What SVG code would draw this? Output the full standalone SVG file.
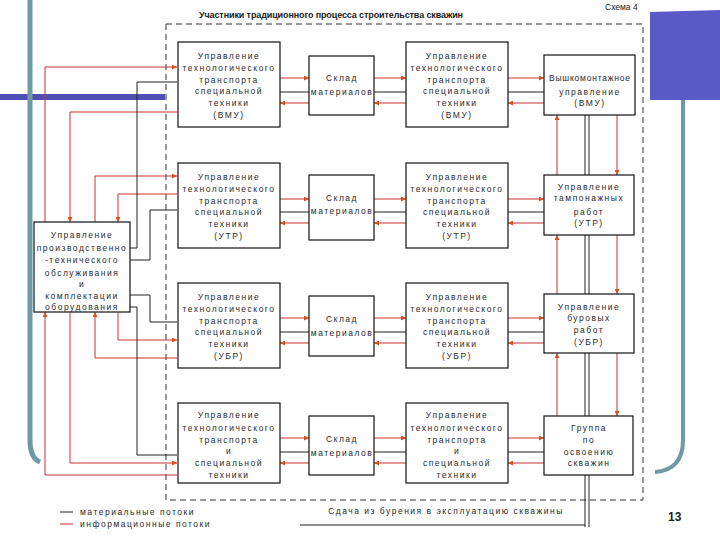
<svg xmlns="http://www.w3.org/2000/svg" width="720" height="540" viewBox="0 0 720 540">
<style>
.box{fill:#fff;stroke:#111;stroke-width:1.2}
.t{font-family:"Liberation Sans",Arial,sans-serif;font-size:8.5px;fill:#2a2a2a;text-anchor:middle;letter-spacing:1.5px}
.r{fill:none;stroke:#c83232;stroke-width:1}
.k{fill:none;stroke:#222;stroke-width:1}
.ra{fill:none;stroke:#c83232;stroke-width:1;marker-end:url(#ah)}
</style>
<defs>
<marker id="ah" viewBox="0 0 10 10" refX="10" refY="5" markerWidth="5" markerHeight="5" markerUnits="userSpaceOnUse" orient="auto">
<path d="M0,0 L10,5 L0,10 z" fill="#d8501e"/>
</marker>
</defs>
<rect width="720" height="540" fill="#fff"/>
<g id="decor">
<rect x="0" y="94" width="165" height="6" fill="#4f4fb4"/>
<path d="M30,0 V440 Q30,458 40,462" fill="none" stroke="#6e9aa3" stroke-width="5"/>
<path d="M650,12 L720,10 V100 H650 Z" fill="#5a5ac6"/>
<path d="M683,100 V440 Q683,470 655,472" fill="none" stroke="#6e9aa3" stroke-width="4"/>
</g>
<g id="frame">
<rect x="166" y="24" width="477" height="476" fill="none" stroke="#333" stroke-width="1" stroke-dasharray="6 4"/>
</g>
<text x="199" y="18" font-family="Liberation Sans,Arial,sans-serif" font-size="9" font-weight="bold" fill="#222" textLength="264">Участники традиционного процесса строительства скважин</text>
<text x="605" y="10" font-family="Liberation Sans,Arial,sans-serif" font-size="8.5" fill="#222">Схема 4</text>
<g id="connectors">
<path class="ra" d="M280,78 H309"/><path class="k" d="M280,92 H309"/><path class="ra" d="M309,103 H280"/>
<path class="ra" d="M374,78 H406"/><path class="k" d="M374,92 H406"/><path class="ra" d="M406,103 H374"/>
<path class="ra" d="M508,78 H544"/><path class="k" d="M508,92 H544"/><path class="ra" d="M544,103 H508"/>
<path class="ra" d="M280,199 H309"/><path class="k" d="M280,212 H309"/><path class="ra" d="M309,223 H280"/>
<path class="ra" d="M374,199 H406"/><path class="k" d="M374,212 H406"/><path class="ra" d="M406,223 H374"/>
<path class="ra" d="M508,199 H544"/><path class="k" d="M508,212 H544"/><path class="ra" d="M544,223 H508"/>
<path class="ra" d="M280,318 H309"/><path class="k" d="M280,332 H309"/><path class="ra" d="M309,343 H280"/>
<path class="ra" d="M374,318 H406"/><path class="k" d="M374,332 H406"/><path class="ra" d="M406,343 H374"/>
<path class="ra" d="M508,318 H544"/><path class="k" d="M508,332 H544"/><path class="ra" d="M544,343 H508"/>
<path class="ra" d="M280,438 H309"/><path class="k" d="M280,452 H309"/><path class="ra" d="M309,463 H280"/>
<path class="ra" d="M374,438 H406"/><path class="k" d="M374,452 H406"/><path class="ra" d="M406,463 H374"/>
<path class="ra" d="M508,438 H544"/><path class="k" d="M508,452 H544"/><path class="ra" d="M544,463 H508"/>
<path class="ra" d="M557,175 V115"/><path class="k" d="M585,115 V175 M589,115 V175"/><path class="ra" d="M617,115 V175"/>
<path class="ra" d="M557,294 V235"/><path class="k" d="M585,235 V294 M589,235 V294"/><path class="ra" d="M617,235 V294"/>
<path class="ra" d="M557,416 V353"/><path class="k" d="M585,353 V416 M589,353 V416"/><path class="ra" d="M617,353 V416"/>
<path class="k" d="M585,475 V527 M589,475 V527"/>
<path class="k" d="M300,525 H585"/>
<path class="ra" d="M45,222 V67 H177"/>
<path class="ra" d="M177,112 H70 V222"/>
<path class="ra" d="M95,222 V176 H177"/>
<path class="ra" d="M177,194 H118 V222"/>
<path class="k" d="M130,248 H137 V82 H177"/>
<path class="k" d="M130,260 H150 V210 H177"/>
<path class="ra" d="M118,312 V340 H177"/>
<path class="ra" d="M177,358 H95 V312"/>
<path class="k" d="M130,295 H150 V322 H177"/>
<path class="ra" d="M70,312 V463 H177"/>
<path class="ra" d="M177,475 H45 V312"/>
<path class="k" d="M130,307 H137 V455 H177"/>
</g>
<g id="A1"><rect class="box" x="178" y="42" width="102" height="85"/>
<text class="t" x="229" y="59">Управление</text><text class="t" x="229" y="71">технологического</text><text class="t" x="229" y="83">транспорта</text><text class="t" x="229" y="94">специальной</text><text class="t" x="229" y="106">техники</text><text class="t" x="229" y="118">(ВМУ)</text></g>
<g id="B1"><rect class="box" x="309" y="56" width="65" height="59"/>
<text class="t" x="342" y="81">Склад</text><text class="t" x="342" y="95">материалов</text></g>
<g id="C1"><rect class="box" x="406" y="42" width="102" height="85"/>
<text class="t" x="457" y="59">Управление</text><text class="t" x="457" y="71">технологического</text><text class="t" x="457" y="83">транспорта</text><text class="t" x="457" y="94">специальной</text><text class="t" x="457" y="106">техники</text><text class="t" x="457" y="118">(ВМУ)</text></g>
<g id="D1"><rect class="box" x="544" y="55" width="91" height="60"/>
<text class="t" x="549" y="81" style="text-anchor:start;letter-spacing:0" textLength="81" lengthAdjust="spacing">Вышкомонтажное</text><text class="t" x="590" y="95">управление</text><text class="t" x="590" y="106">(ВМУ)</text></g>
<g id="A2"><rect class="box" x="178" y="163" width="102" height="85"/>
<text class="t" x="229" y="180">Управление</text><text class="t" x="229" y="192">технологического</text><text class="t" x="229" y="204">транспорта</text><text class="t" x="229" y="215">специальной</text><text class="t" x="229" y="227">техники</text><text class="t" x="229" y="239">(УТР)</text></g>
<g id="B2"><rect class="box" x="309" y="175" width="65" height="65"/>
<text class="t" x="342" y="201">Склад</text><text class="t" x="342" y="214">материалов</text></g>
<g id="C2"><rect class="box" x="406" y="163" width="102" height="85"/>
<text class="t" x="457" y="180">Управление</text><text class="t" x="457" y="192">технологического</text><text class="t" x="457" y="204">транспорта</text><text class="t" x="457" y="215">специальной</text><text class="t" x="457" y="227">техники</text><text class="t" x="457" y="239">(УТР)</text></g>
<g id="D2"><rect class="box" x="544" y="175" width="90" height="60"/>
<text class="t" x="589" y="190">Управление</text><text class="t" x="589" y="201">тампонажных</text><text class="t" x="589" y="215">работ</text><text class="t" x="589" y="226">(УТР)</text></g>
<g id="A3"><rect class="box" x="178" y="283" width="102" height="85"/>
<text class="t" x="229" y="300">Управление</text><text class="t" x="229" y="312">технологического</text><text class="t" x="229" y="324">транспорта</text><text class="t" x="229" y="335">специальной</text><text class="t" x="229" y="347">техники</text><text class="t" x="229" y="359">(УБР)</text></g>
<g id="B3"><rect class="box" x="309" y="296" width="65" height="60"/>
<text class="t" x="342" y="322">Склад</text><text class="t" x="342" y="336">материалов</text></g>
<g id="C3"><rect class="box" x="406" y="283" width="102" height="85"/>
<text class="t" x="457" y="300">Управление</text><text class="t" x="457" y="312">технологического</text><text class="t" x="457" y="324">транспорта</text><text class="t" x="457" y="335">специальной</text><text class="t" x="457" y="347">техники</text><text class="t" x="457" y="359">(УБР)</text></g>
<g id="D3"><rect class="box" x="544" y="294" width="90" height="59"/>
<text class="t" x="589" y="310">Управление</text><text class="t" x="589" y="321">буровых</text><text class="t" x="589" y="333">работ</text><text class="t" x="589" y="345">(УБР)</text></g>
<g id="A4"><rect class="box" x="178" y="403" width="102" height="80"/>
<text class="t" x="229" y="418">Управление</text><text class="t" x="229" y="431">технологического</text><text class="t" x="229" y="443">транспорта</text><text class="t" x="229" y="454">и</text><text class="t" x="229" y="466">специальной</text><text class="t" x="229" y="478">техники</text></g>
<g id="B4"><rect class="box" x="309" y="416" width="65" height="59"/>
<text class="t" x="342" y="442">Склад</text><text class="t" x="342" y="456">материалов</text></g>
<g id="C4"><rect class="box" x="406" y="403" width="102" height="80"/>
<text class="t" x="457" y="418">Управление</text><text class="t" x="457" y="431">технологического</text><text class="t" x="457" y="443">транспорта</text><text class="t" x="457" y="454">и</text><text class="t" x="457" y="466">специальной</text><text class="t" x="457" y="478">техники</text></g>
<g id="D4"><rect class="box" x="544" y="416" width="89" height="59"/>
<text class="t" x="589" y="431">Группа</text><text class="t" x="589" y="443">по</text><text class="t" x="589" y="455">освоению</text><text class="t" x="589" y="466">скважин</text></g>
<g id="L"><rect class="box" x="34" y="222" width="96" height="90"/>
<text class="t" x="82" y="238">Управление</text><text class="t" x="82" y="251">производственно</text><text class="t" x="82" y="263">-технического</text><text class="t" x="82" y="276">обслуживания</text><text class="t" x="82" y="287">и</text><text class="t" x="82" y="299">комплектации</text><text class="t" x="82" y="310">оборудования</text></g>
<g id="legend">
<line x1="60" y1="512" x2="73" y2="512" stroke="#222" stroke-width="1"/>
<line x1="60" y1="524" x2="73" y2="524" stroke="#c83232" stroke-width="1"/>
<text class="t" x="80" y="515" style="text-anchor:start">материальные потоки</text>
<text class="t" x="80" y="527" style="text-anchor:start">информационные потоки</text>
</g>
<text class="t" x="446" y="514">Сдача из бурения в эксплуатацию скважины</text>
<text x="668" y="521" font-family="Liberation Sans,Arial,sans-serif" font-size="12" font-weight="bold" fill="#222">13</text>
</svg>
